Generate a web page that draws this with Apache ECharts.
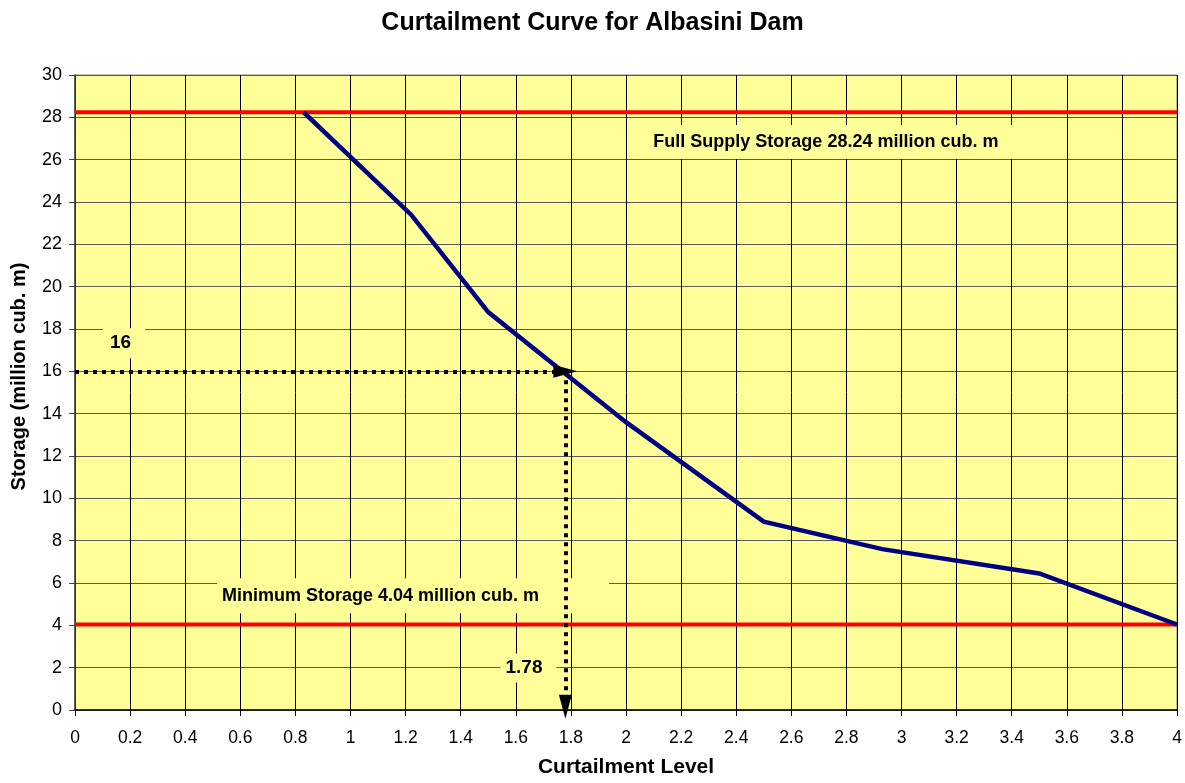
<!DOCTYPE html>
<html>
<head>
<meta charset="utf-8">
<script src="https://cdn.jsdelivr.net/npm/echarts@6/dist/echarts.min.js"></script>
<style>
html,body{margin:0;padding:0;background:#fff;}
#chart{width:1185px;height:783px;}
</style>
</head>
<body>
<div id="chart"></div>
<script>
// ---- data ----
const curtailmentLevel = [0.83, 1.22, 1.5, 2.0, 2.5, 2.93, 3.5, 4.0];
const storage = [28.24, 23.4, 18.8, 13.6, 8.9, 7.6, 6.45, 4.04];
const fullSupplyStorage = 28.24;
const minimumStorage = 4.04;
const readStorage = 16;
const readCurtailment = 1.78;
const xRange = [0, 4];
const yRange = [0, 30];
const annotationTexts = ['16', 'Full Supply Storage 28.24 million cub. m', 'Minimum Storage 4.04 million cub. m', '1.78'];
const annotationX = [0.178, 2.80, 1.227, 1.646];
const annotationY = [17.33, 26.84, 5.40, 1.98];

// ---- styles ----
const annotationPadding = [[2, 14, 9, 7], [4, 45, 12, 4], [4, 70, 13, 5], [1, 14, 9, 5]];
const annotationFont = [19, 18, 18, 19];
const FONT = '"Liberation Sans", Arial, sans-serif';

const chart = echarts.init(document.getElementById('chart'), null, {renderer: 'canvas'});

const annotations = annotationTexts.map((t, i) => ({
  value: [annotationX[i], annotationY[i]],
  name: t,
  label: {
    show: true,
    position: 'inside',
    formatter: t,
    fontFamily: FONT,
    fontWeight: 'bold',
    fontSize: annotationFont[i],
    color: '#000000',
    opacity: 1,
    textBorderWidth: 0,
    backgroundColor: '#FFFF99',
    padding: annotationPadding[i]
  }
}));

const option = {
  backgroundColor: '#ffffff',
  animation: false,
  title: {
    text: 'Curtailment Curve for Albasini Dam',
    left: 'center',
    top: 6,
    textStyle: {fontFamily: FONT, fontWeight: 'bold', fontSize: 25, color: '#000'}
  },
  grid: {
    left: 75, right: 8, top: 75, bottom: 72,
    show: true,
    backgroundColor: '#FFFF99',
    borderColor: '#808080',
    borderWidth: 1,
    containLabel: false
  },
  xAxis: {
    type: 'value',
    min: xRange[0], max: xRange[1], interval: 0.2,
    name: 'Curtailment Level',
    nameLocation: 'middle',
    nameGap: 47,
    nameTextStyle: {fontFamily: FONT, fontWeight: 'bold', fontSize: 21, color: '#000'},
    axisLine: {show: true, onZero: false, lineStyle: {color: '#000', width: 1.5}},
    axisTick: {show: true, inside: false, length: 6, lineStyle: {color: '#000'}},
    axisLabel: {fontFamily: FONT, fontSize: 17.5, color: '#000', margin: 19,
      formatter: v => String(Math.round(v * 10) / 10)},
    splitLine: {show: true, lineStyle: {color: '#000', width: 1}}
  },
  yAxis: {
    type: 'value',
    min: yRange[0], max: yRange[1], interval: 2,
    name: 'Storage (million cub. m)',
    nameLocation: 'middle',
    nameGap: 46,
    nameTextStyle: {fontFamily: FONT, fontWeight: 'bold', fontSize: 20, color: '#000', padding: [0, 0, 0, 32]},
    axisLine: {show: true, onZero: false, lineStyle: {color: '#404040', width: 1.5}},
    axisTick: {show: true, inside: false, length: 6, lineStyle: {color: '#404040'}},
    axisLabel: {fontFamily: FONT, fontSize: 18, color: '#000', margin: 13},
    splitLine: {show: true, lineStyle: {color: '#5a5a5a', width: 1}}
  },
  series: [
    {
      type: 'scatter',
      z: 1,
      symbolSize: 1,
      itemStyle: {color: '#FFFF99', opacity: 1},
      emphasis: {disabled: true},
      data: annotations,
      silent: true
    },
    {
      type: 'line',
      z: 3,
      data: [[xRange[0], fullSupplyStorage], [xRange[1], fullSupplyStorage]],
      symbol: 'none',
      lineStyle: {color: '#FF0000', width: 4}
    },
    {
      type: 'line',
      z: 3,
      data: [[xRange[0], minimumStorage], [xRange[1], minimumStorage]],
      symbol: 'none',
      lineStyle: {color: '#FF0000', width: 4}
    },
    {
      type: 'line',
      z: 4,
      data: curtailmentLevel.map((x, i) => [x, storage[i]]),
      symbol: 'none',
      lineStyle: {color: '#000080', width: 4.5, join: 'miter'}
    },
    {
      type: 'line',
      z: 5,
      data: [],
      markLine: {
        silent: true,
        animation: false,
        symbol: ['none', 'triangle'],
        symbolSize: [13, 24],
        label: {show: false},
        lineStyle: {color: '#000', width: 4, type: [4, 5], cap: 'butt'},
        data: [
          [{coord: [xRange[0], readStorage]}, {coord: [readCurtailment, readStorage]}],
          [{coord: [readCurtailment, readStorage]}, {coord: [readCurtailment, yRange[0] + 0.15]}]
        ]
      }
    }
  ]
};
chart.setOption(option);
</script>
</body>
</html>
